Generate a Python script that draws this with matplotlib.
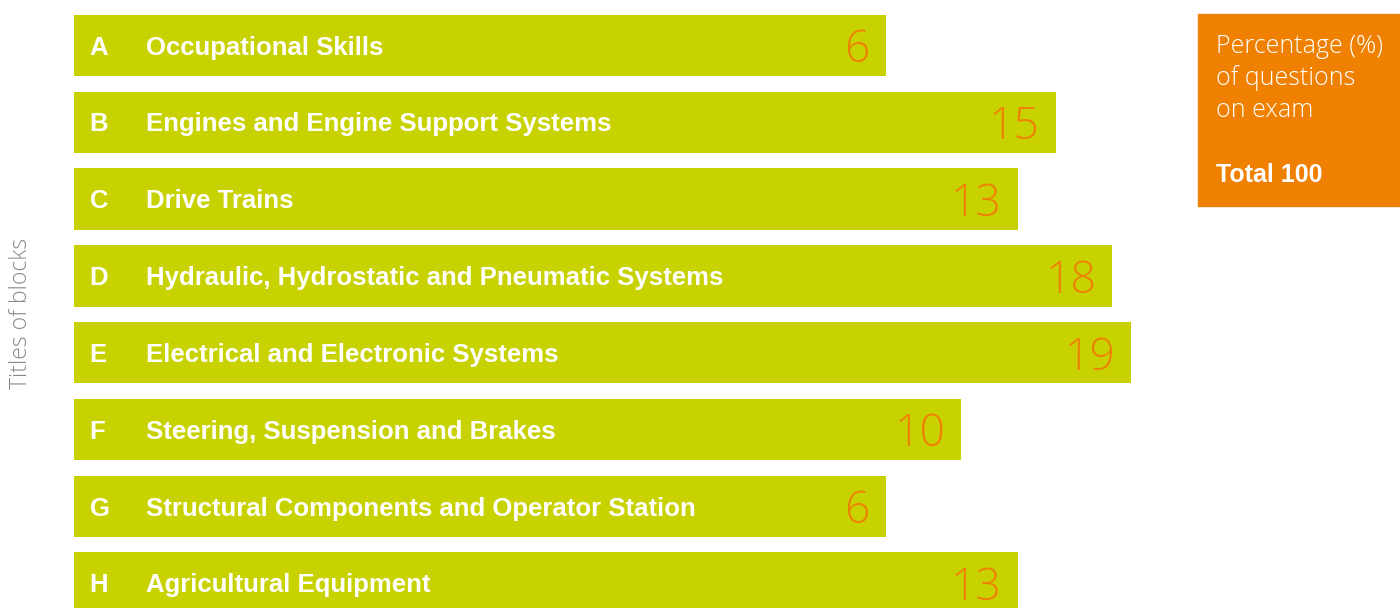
import matplotlib.pyplot as plt
from matplotlib.patches import Rectangle

plt.rcParams["font.family"] = ["Liberation Sans", "DejaVu Sans"]

letters = ["A", "B", "C", "D", "E", "F", "G", "H"]
titles = [
    "Occupational Skills",
    "Engines and Engine Support Systems",
    "Drive Trains",
    "Hydraulic, Hydrostatic and Pneumatic Systems",
    "Electrical and Electronic Systems",
    "Steering, Suspension and Brakes",
    "Structural Components and Operator Station",
    "Agricultural Equipment",
]
percent = [6, 15, 13, 18, 19, 10, 6, 13]
total = sum(percent)

lime = "#c8d200"
orange = "#f08000"
thin = ["Open Sans", "DejaVu Sans"]

fig = plt.figure(figsize=(14, 6.08), dpi=100)
ax = fig.add_axes([0, 0, 1, 1])

# bars all start from a common base left of zero so short blocks still fit their titles
base = -37.1
rows = range(len(letters))
ax.barh(rows, [p - base for p in percent], left=base, height=0.8, color=lime)

for i, (let, title, p) in enumerate(zip(letters, titles, percent)):
    ax.text(base + 0.85, i + 0.12, let, color="white", fontsize=18.5,
            fontweight="bold", va="baseline", ha="left")
    ax.text(base + 3.82, i + 0.12, title, color="white", fontsize=18.5,
            fontweight="bold", va="baseline", ha="left")
    ax.text(p - 0.85, i + 0.22, str(p), color=orange, fontsize=32,
            family=thin, fontweight="light", va="baseline", ha="right")

ax.set_xlim(-41.0, 33.27)
ax.set_ylim(7.324, -0.592)
ax.axis("off")

fig.text(0.015, 0.4844, "Titles of blocks", rotation=90, color="#8a8a8a",
         fontsize=16.5, family=thin, fontweight="light", ha="center", va="center")

# legend box on the right
fig.patches.append(Rectangle((1198 / 1400, 1 - 205.5 / 608), 202 / 1400, 191.5 / 608,
                             transform=fig.transFigure, color=orange, zorder=0))
box_lines = ["Percentage (%)", "of questions", "on exam"]
for k, line in enumerate(box_lines):
    fig.text(1216 / 1400, 1 - (53.3 + 32.1 * k) / 608, line, color="white",
             fontsize=18, family=thin, fontweight="light", ha="left", va="baseline")
fig.text(1216 / 1400, 1 - 181.7 / 608, f"Total {total}", color="white",
         fontsize=18, fontweight="bold", ha="left", va="baseline")

plt.savefig("out.png", dpi=100)
